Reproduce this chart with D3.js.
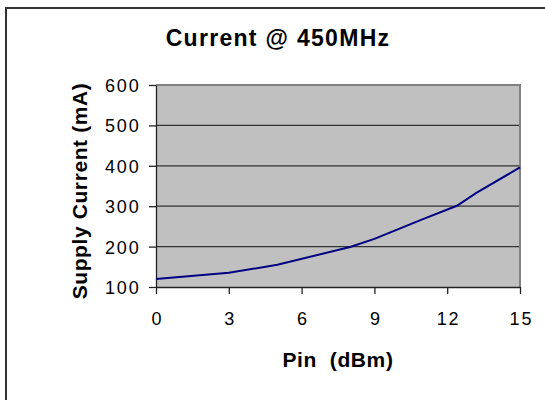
<!DOCTYPE html>
<html>
<head>
<meta charset="utf-8">
<script src="https://cdn.jsdelivr.net/npm/d3@7"></script>
<style>
  body { margin: 0; background: white; }
  text { font-family: "Liberation Sans", Arial, sans-serif; fill: #000; }
</style>
</head>
<body>
<div id="chart"></div>
<script>
// Pin (dBm) vs supply current (mA)
const pinDbm = [0, 3, 5, 8, 9, 11, 12.4, 13.2, 15];
const currentMa = [120, 135, 155, 199, 219, 268, 301, 333, 396];
const xTicks = [0, 3, 6, 9, 12, 15];
const yTicks = [100, 200, 300, 400, 500, 600];

const width = 545, height = 400;
const plot = { left: 156, right: 520, top: 85, bottom: 287 };

let svg = d3.select("#chart").append("svg")
    .attr("width", width)
    .attr("height", height);

// outer chart border (runs off the right and bottom edge)
svg.append("rect")
    .attr("x", 6).attr("y", 8)
    .attr("width", 545).attr("height", 400)
    .attr("fill", "white")
    .attr("stroke", "#333")
    .attr("stroke-width", 2);

let x = d3.scaleLinear().domain([0, 15]).range([plot.left, plot.right]);
let y = d3.scaleLinear().domain([100, 600]).range([plot.bottom, plot.top]);

// plot area
svg.append("rect")
    .attr("x", plot.left).attr("y", plot.top)
    .attr("width", plot.right - plot.left)
    .attr("height", plot.bottom - plot.top)
    .attr("fill", "#c0c0c0");

// grid lines
svg.selectAll(".grid")
    .data(yTicks.filter(d => d > 100 && d < 600))
    .enter().append("line")
    .attr("x1", plot.left).attr("x2", plot.right)
    .attr("y1", d => y(d)).attr("y2", d => y(d))
    .attr("stroke", "#333")
    .attr("stroke-width", 1.2);

// top and right border of plot area
svg.append("path")
    .attr("d", `M${plot.left},${plot.top}H${plot.right}V${plot.bottom}`)
    .attr("fill", "none")
    .attr("stroke", "#808080")
    .attr("stroke-width", 2);

// axes
let yAxis = svg.append("g")
    .attr("transform", `translate(${plot.left},0)`)
    .call(d3.axisLeft(y).tickValues(yTicks).tickSize(7).tickPadding(8.5).tickSizeOuter(0));

let xAxis = svg.append("g")
    .attr("transform", `translate(0,${plot.bottom})`)
    .call(d3.axisBottom(x).tickValues(xTicks).tickSize(7).tickPadding(18).tickSizeOuter(0));

[xAxis, yAxis].forEach(g => {
    g.select(".domain").attr("stroke", "#222").attr("stroke-width", 1.3);
    g.selectAll(".tick line").attr("stroke", "#222").attr("stroke-width", 1.3);
    g.selectAll(".tick text")
        .style("font-family", "'Liberation Sans', Arial, sans-serif")
        .style("font-size", "18px")
        .style("letter-spacing", "1.8px")
        .attr("fill", "#000");
});
yAxis.selectAll(".tick text").attr("dy", "0.36em");
xAxis.selectAll(".tick text").attr("dx", "0.9px");

// data line
let line = d3.line()
    .x((d, i) => x(pinDbm[i]))
    .y(d => y(d));

svg.append("path")
    .datum(currentMa)
    .attr("d", line)
    .attr("fill", "none")
    .attr("stroke", "#000080")
    .attr("stroke-width", 2);

// titles
svg.append("text")
    .attr("x", 278).attr("y", 46)
    .attr("text-anchor", "middle")
    .style("font-size", "23px")
    .style("font-weight", "bold")
    .style("letter-spacing", "1.3px")
    .style("white-space", "pre")
    .text("Current @ 450MHz");

svg.append("text")
    .attr("x", (plot.left + plot.right) / 2).attr("y", 367)
    .attr("text-anchor", "middle")
    .style("font-size", "21px")
    .style("font-weight", "bold")
    .style("letter-spacing", "0.6px")
    .style("white-space", "pre")
    .text("Pin  (dBm)");

svg.append("text")
    .attr("transform", `translate(87,${(plot.top + plot.bottom) / 2 + 5}) rotate(-90)`)
    .attr("text-anchor", "middle")
    .style("font-size", "21px")
    .style("font-weight", "bold")
    .style("letter-spacing", "0.6px")
    .text("Supply Current (mA)");
</script>
</body>
</html>
